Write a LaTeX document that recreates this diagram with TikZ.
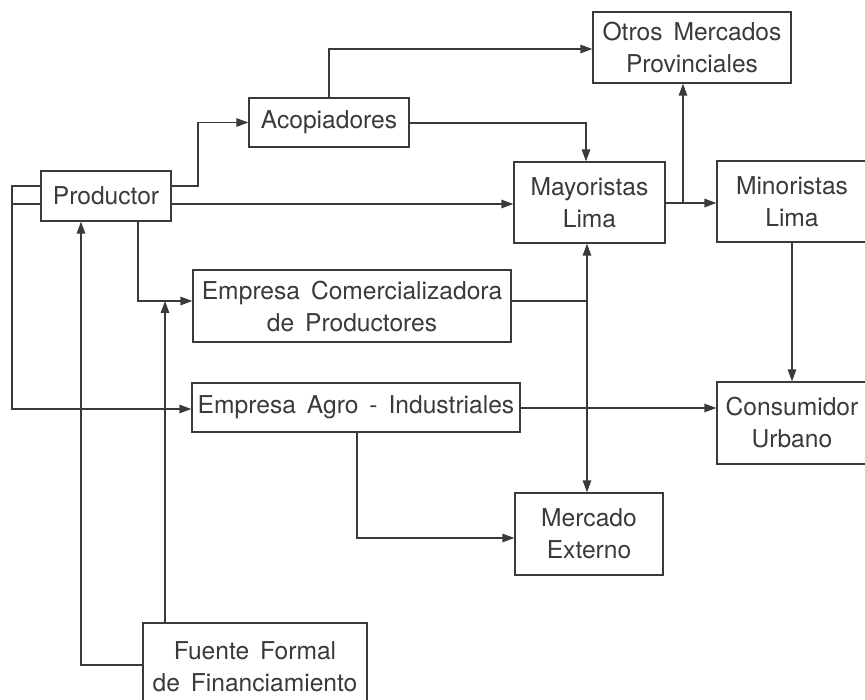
\documentclass[tikz,border=0pt]{standalone}
\usepackage{fontspec}
\setmainfont{TeX Gyre Heros}[WordSpace=1.6]
\usetikzlibrary{arrows.meta}
\definecolor{ink}{HTML}{3A3A3A}
\begin{document}
\begin{tikzpicture}[x=1pt,y=-1pt,
  box/.style={draw=ink,line width=1.3pt,text=ink,inner sep=0pt,align=center,
    font=\fontsize{24.6}{32}\selectfont},
  link/.style={draw=ink,line width=1.3pt},
  arr/.style={link,-{Triangle[length=12pt,width=8.5pt]}},
  arrboth/.style={link,{Triangle[length=12pt,width=8.5pt]}-{Triangle[length=12pt,width=8.5pt]}}]
\useasboundingbox (0,0) rectangle (865,700);
\clip (0,0) rectangle (865,700);

% boxes
\node[box,minimum width=130,minimum height=50] (prod) at (106,196) {Productor};
\node[box,minimum width=160,minimum height=49] (acop) at (329,122.5) {Acopiadores};
\node[box,minimum width=198,minimum height=71] (otros) at (692,47.5) {Otros Mercados\\Provinciales};
\node[box,minimum width=151,minimum height=81] (mayo) at (589.5,202.5) {Mayoristas\\Lima};
\node[box,minimum width=150,minimum height=81] (mino) at (792,201.5) {Minoristas\\Lima};
\node[box,minimum width=318,minimum height=72] (emco) at (352,306) {Empresa Comercializadora\\de Productores};
\node[box,minimum width=328,minimum height=49] (agro) at (356,407.5) {Empresa Agro - Industriales};
\node[box,minimum width=150,minimum height=82] (cons) at (792,423) {Consumidor\\Urbano};
\node[box,minimum width=148,minimum height=82] (merc) at (589,534) {Mercado\\Externo};
\node[box,minimum width=224,minimum height=88] (fuen) at (255,667) {Fuente Formal\\de Financiamiento};

% junction points on existing lines
\coordinate (jemco) at (165,301);
\coordinate (jmayo) at (683,203);
\coordinate (jvert) at (587,301);

% from the producer
\draw[arr] (prod.east |- 0,186) -- (198,186) |- (acop.west);
\draw[arr] (prod.east |- 0,204) -- (mayo.west |- 0,204);
\draw[arr] (prod.south -| 138,0) |- (emco.west |- 0,301);
\draw[arr] (prod.west |- 0,186) -- (12,186) |- (agro.west |- 0,409);
\draw[link] (prod.west |- 0,204) -- (12,204);

% financing
\draw[arr] (fuen.west |- 0,665) -| (prod.south -| 81,0);
\draw[arr] (fuen.north -| 165,0) -- (jemco);

% collectors
\draw[arr] (acop.east |- 0,123) -| (mayo.north -| 586,0);
\draw[arr] (acop.north) |- (otros.west |- 0,49);

% wholesalers
\draw[arr] (mayo.east |- 0,203) -- (mino.west |- 0,203);
\draw[arr] (jmayo) -- (otros.south -| 683,0);
\draw[link] (emco.east |- 0,301) -- (jvert);
\draw[arrboth] (mayo.south -| 587,0) -- (merc.north -| 587,0);

% agro-industry
\draw[arr] (agro.east |- 0,408) -- (cons.west |- 0,408);
\draw[arr] (agro.south -| 357,0) |- (merc.west |- 0,538);

% retailers
\draw[arr] (mino.south -| 792,0) -- (cons.north -| 792,0);
\end{tikzpicture}
\end{document}
